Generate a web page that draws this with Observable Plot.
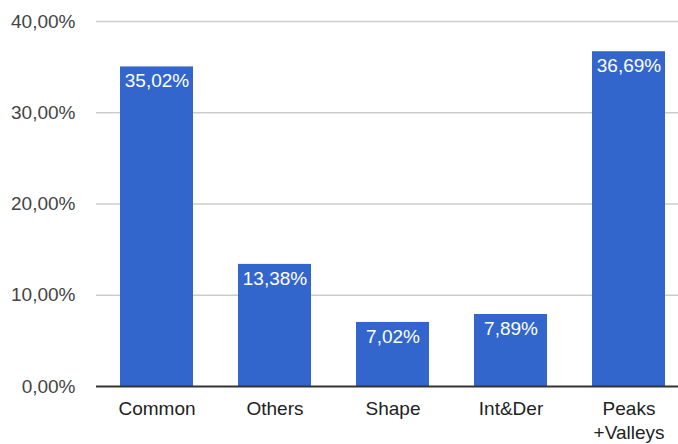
<!DOCTYPE html>
<html><head><meta charset="utf-8">
<script src="https://cdn.jsdelivr.net/npm/d3@7"></script>
<script src="https://cdn.jsdelivr.net/npm/@observablehq/plot@0.6"></script>
<style>body{margin:0;background:#fff;font-family:"Liberation Sans",Arial,sans-serif}</style>
</head><body><div id="chart"></div>
<script>
const categories = ["Common", "Others", "Shape", "Int&Der", "Peaks\n+Valleys"];
const values = [35.02, 13.38, 7.02, 7.89, 36.69];
const yTicks = [0, 10, 20, 30, 40];
const data = categories.map((c, i) => ({cat: c, v: values[i]}));
const fmt = v => v.toFixed(2).replace(".", ",") + "%";
const chart = Plot.plot({
  width: 678, height: 444,
  marginLeft: 96, marginRight: -11, marginTop: 21, marginBottom: 58,
  style: {fontFamily: '"Liberation Sans", Arial, sans-serif', fontSize: "19px", background: "#fff"},
  x: {domain: categories, paddingInner: 0.385, paddingOuter: 0.1925, label: null},
  y: {domain: [0, 40], label: null},
  marks: [
    Plot.ruleY(yTicks.filter(t => t > 0), {stroke: "#ccc", strokeWidth: 1.5}),
    Plot.barY(data, {x: "cat", y: "v", fill: "#3366cc"}),
    Plot.ruleY([0], {stroke: "#333", strokeWidth: 2}),
    Plot.text(data, {x: "cat", y: "v", text: d => fmt(d.v), fill: "#fff", dy: 14, fontSize: 19}),
    Plot.axisY({ticks: yTicks, tickSize: 0, tickPadding: 21, tickFormat: v => v.toFixed(2).replace(".", ",") + "%", fill: "#444", fontSize: 19, label: null}),
    Plot.axisX({tickSize: 0, tickPadding: 11, fill: "#222", fontSize: 19, lineHeight: 1.27, label: null})
  ]
});
document.getElementById("chart").append(chart);
</script></body></html>
